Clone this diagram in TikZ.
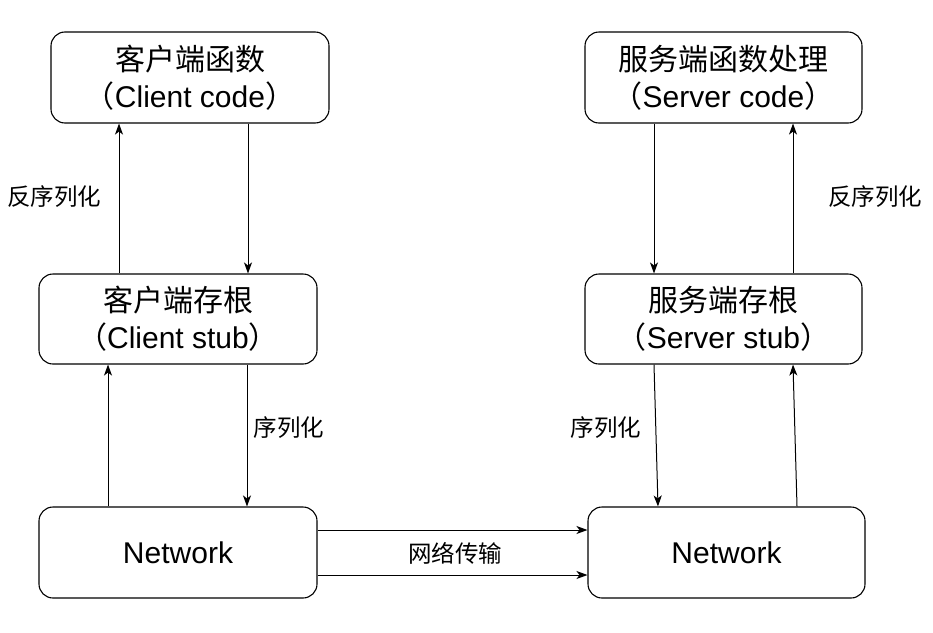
\documentclass[tikz,border=0pt]{standalone}
\usepackage{fontspec}
\setmainfont{Liberation Sans}
\newfontfamily\cjk{Noto Sans CJK SC}
\usetikzlibrary{arrows.meta}
\begin{document}
\begin{tikzpicture}[x=1pt,y=-1pt,
  box/.style={draw,line width=1.1pt,rounded corners=14pt,align=center,inner sep=0pt,
    font=\fontsize{30}{37}\selectfont},
  lbl/.style={font=\cjk\fontsize{23.5}{26}\selectfont,inner sep=0pt},
  arr/.style={line width=1pt,-{Stealth[length=11pt,width=8pt,inset=3pt]}}]
\useasboundingbox (0,0) rectangle (933,632);
\node[box,minimum width=278pt,minimum height=91pt] (cc) at (190,77.5)
  {{\cjk 客户端函数}\\{\cjk （}Client code{\cjk ）}};
\node[box,minimum width=277pt,minimum height=91pt] (sc) at (723.5,77.5)
  {{\cjk 服务端函数处理}\\{\cjk （}Server code{\cjk ）}};
\node[box,minimum width=278pt,minimum height=90pt] (cs) at (178,319)
  {{\cjk 客户端存根}\\{\cjk （}Client stub{\cjk ）}};
\node[box,minimum width=277pt,minimum height=90pt] (ss) at (723.5,319)
  {{\cjk 服务端存根}\\{\cjk （}Server stub{\cjk ）}};
\node[box,minimum width=278pt,minimum height=91pt] (nl) at (178,552.5) {Network};
\node[box,minimum width=277pt,minimum height=91pt] (nr) at (726.5,552.5) {Network};
% left column
\draw[arr] (cs.north -| 119,0) -- (cc.south -| 119,0);
\draw[arr] (cc.south -| 248,0) -- (cs.north -| 248,0);
\draw[arr] (nl.north -| 108,0) -- (cs.south -| 108,0);
\draw[arr] (cs.south -| 247,0) -- (nl.north -| 247,0);
% right column
\draw[arr] (sc.south -| 654,0) -- (ss.north -| 654,0);
\draw[arr] (ss.north -| 793,0) -- (sc.south -| 793,0);
\draw[arr] (ss.south -| 654,0) -- (nr.north -| 658,0);
\draw[arr] (nr.north -| 797,0) -- (ss.south -| 793,0);
% network
\draw[arr] (nl.east |- 0,530) -- (nr.west |- 0,530);
\draw[arr] (nl.east |- 0,575) -- (nr.west |- 0,575);
% labels
\node[lbl] (l1) at (54,197) {反序列化};
\node[lbl] (l2) at (289,428) {序列化};
\node[lbl] (l3) at (455,553) {网络传输};
\node[lbl] (l4) at (875,197) {反序列化};
\node[lbl] (l5) at (606,428) {序列化};
\end{tikzpicture}
\end{document}
